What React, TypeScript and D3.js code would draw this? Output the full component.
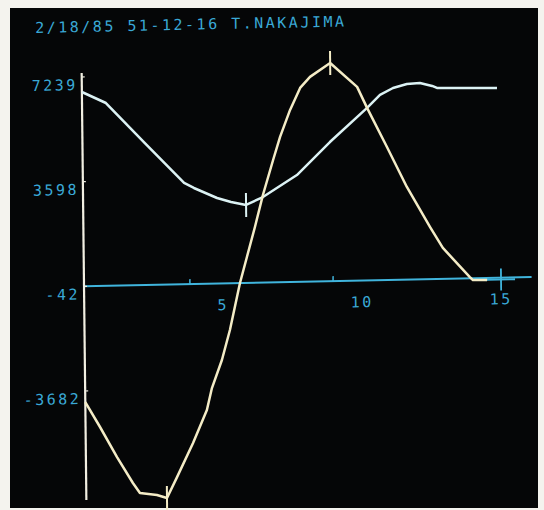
import React from "react";
import * as d3 from "d3";

const titleText = "2/18/85 51-12-16 T.NAKAJIMA";
const yTickValues = [7239, 3598, -42, -3682];
const xTickLabels = [5, 10, 15];
const xMinorTicks = [3.81, 8.96];

const cyanX = [0, 0.86, 2.21, 3.64, 3.99, 4.82, 5.32, 5.86, 6.47, 7.7, 8.9, 10.25, 10.72, 11.19, 11.69, 12.16, 12.6, 12.77, 14.93];
const cyanY = [6717, 6317, 4933, 3479, 3298, 2933, 2784, 2669, 2933, 3674, 4797, 5956, 6397, 6630, 6759, 6783, 6672, 6599, 6554];

const yelX = [0, 0.52, 1.12, 1.68, 1.93, 2.54, 2.9, 3.27, 3.86, 4.37, 4.56, 4.93, 5.23, 5.61, 5.87, 6.17, 6.47, 6.85, 7.11, 7.48, 7.85, 8.21, 8.94, 9.9, 10.25, 10.95, 11.65, 12.47, 12.92, 13.88, 13.99, 14.5];
const yelY = [-4068, -4944, -6002, -6916, -7271, -7351, -7463, -6743, -5570, -4433, -3672, -2705, -1668, -40, 861, 1897, 3003, 4213, 5010, 5942, 6700, 7076, 7545, 6693, 5956, 4582, 3177, 1768, 1031, -1, -107, -117];

// extreme markers [x, value]
const cyanMarks = [[5.86, 2669]];
const yelMarks = [[2.9, -7463], [8.94, 7545]];
const endMark = [15, -110];

const W = 544;
const H = 510;

export default function App() {
  const x = d3.scaleLinear().domain([0, 15]).range([84, 501]);
  const y = d3.scaleLinear().domain([-3682, 7239]).range([391, 77]);

  const line = d3
    .line<[number, number]>()
    .x((d) => x(d[0]))
    .y((d) => y(d[1]));

  const cyanPts = cyanX.map((v, i) => [v, cyanY[i]] as [number, number]);
  const yelPts = yelX.map((v, i) => [v, yelY[i]] as [number, number]);

  const textCyan = "#3aa9d6";
  const axisCyan = "#40b4dc";
  const curveCyan = "#dcf2f4";
  const curveYel = "#f4ecc6";
  const white = "#f2efe2";
  const font = "'DejaVu Sans Mono', monospace";

  const ax0 = x(0);
  const ay = y(-42);

  return (
    <svg
      width={W}
      height={H}
      style={{ position: "absolute", left: 0, top: 0, background: "#f4f3ee" }}
    >
      <rect x={10} y={8} width={528} height={500} fill="#050607" />
      <g transform={`translate(84,285) matrix(1,-0.021,0.011,1,0,0) translate(-84,-285)`}>
        <text
          x={38}
          y={32}
          fill={textCyan}
          fontFamily={font}
          fontSize={15}
          letterSpacing={2.5}
        >
          {titleText}
        </text>

        {/* horizontal axis */}
        <line x1={ax0} x2={x(16.1)} y1={ay} y2={ay} stroke={axisCyan} strokeWidth={2} />
        {xMinorTicks.map((t, i) => (
          <line key={i} x1={x(t)} x2={x(t)} y1={ay} y2={ay - 5} stroke={axisCyan} strokeWidth={1.5} />
        ))}
        {xTickLabels.map((t, i) => (
          <text
            key={i}
            x={x(t)}
            y={313}
            fill={textCyan}
            fontFamily={font}
            fontSize={15}
            letterSpacing={2.5}
            textAnchor="middle"
          >
            {String(t)}
          </text>
        ))}

        {/* vertical axis */}
        <line x1={ax0} x2={ax0} y1={73} y2={500} stroke={white} strokeWidth={2.2} />
        {yTickValues.map((t, i) => (
          <g key={i}>
            <line x1={ax0} x2={ax0 + 3} y1={y(t)} y2={y(t)} stroke={white} strokeWidth={1.2} />
            <text
              x={80}
              y={y(t) + 13}
              fill={textCyan}
              fontFamily={font}
              fontSize={15}
              letterSpacing={2.5}
              textAnchor="end"
            >
              {String(t)}
            </text>
          </g>
        ))}

        {/* end cross */}
        <line x1={x(endMark[0])} x2={x(endMark[0])} y1={y(endMark[1]) - 11} y2={y(endMark[1]) + 11} stroke={axisCyan} strokeWidth={1.8} />
        <line x1={x(endMark[0]) - 25} x2={x(endMark[0]) + 14} y1={y(endMark[1])} y2={y(endMark[1])} stroke={axisCyan} strokeWidth={1.8} />

        {/* curves */}
        <path d={line(cyanPts) || ""} fill="none" stroke={curveCyan} strokeWidth={2.5} strokeLinejoin="round" />
        <path d={line(yelPts) || ""} fill="none" stroke={curveYel} strokeWidth={2.5} strokeLinejoin="round" />

        {cyanMarks.map((m, i) => (
          <line key={i} x1={x(m[0])} x2={x(m[0])} y1={y(m[1]) - 12} y2={y(m[1]) + 12} stroke={curveCyan} strokeWidth={2} />
        ))}
        {yelMarks.map((m, i) => (
          <line key={i} x1={x(m[0])} x2={x(m[0])} y1={y(m[1]) - 12} y2={y(m[1]) + 12} stroke={curveYel} strokeWidth={2} />
        ))}
      </g>
    </svg>
  );
}
